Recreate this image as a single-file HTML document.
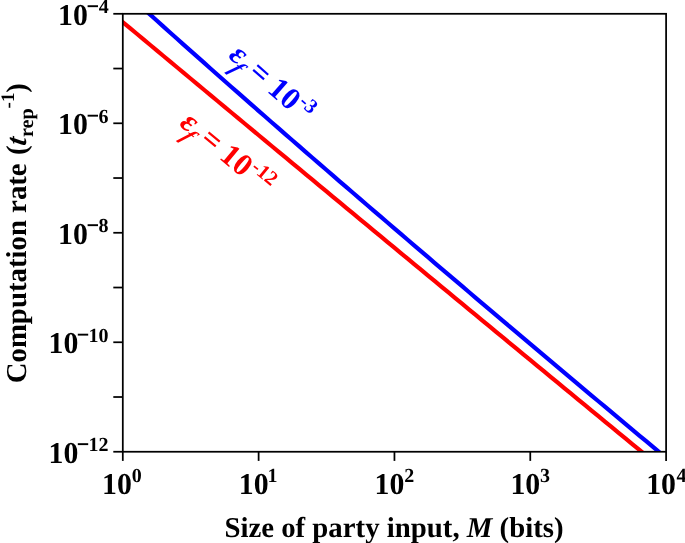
<!DOCTYPE html>
<html><head><meta charset="utf-8"><style>
html,body{margin:0;padding:0;background:#fff;}
body{width:685px;height:543px;overflow:hidden;position:relative;}
svg{position:absolute;left:0;top:0;will-change:transform;}
text{font-family:"Liberation Serif",serif;font-weight:bold;text-rendering:geometricPrecision;}
</style></head><body>
<svg width="685" height="543" viewBox="0 0 685 543">
<defs><clipPath id="ax"><rect x="122.8" y="13.8" width="543.3000000000001" height="437.95"/></clipPath></defs>
<g clip-path="url(#ax)" fill="none" stroke-width="4.2" stroke-linejoin="round">
<polyline stroke="#0000ff" points="108.68,-22.95 115.46,-16.77 122.24,-10.60 129.03,-4.45 135.81,1.69 142.59,7.81 149.38,13.93 156.16,20.03 162.94,26.12 169.73,32.20 176.52,38.26 183.30,44.32 190.09,50.37 196.88,56.41 203.67,62.43 210.46,68.45 217.25,74.46 224.04,80.46 230.83,86.45 237.62,92.43 244.42,98.41 251.21,104.38 258.00,110.33 264.80,116.28 271.59,122.23 278.39,128.16 285.18,134.09 291.98,140.02 298.78,145.93 305.57,151.84 312.37,157.74 319.17,163.64 325.97,169.53 332.77,175.41 339.57,181.29 346.37,187.16 353.18,193.03 359.98,198.89 366.78,204.75 373.58,210.60 380.39,216.44 387.19,222.28 394.00,228.12 400.80,233.95 407.61,239.77 414.42,245.59 421.22,251.41 428.03,257.22 434.84,263.03 441.65,268.83 448.46,274.63 455.27,280.42 462.08,286.21 468.89,292.00 475.70,297.78 482.51,303.56 489.33,309.33 496.14,315.11 502.95,320.87 509.77,326.64 516.58,332.40 523.40,338.15 530.21,343.90 537.03,349.65 543.85,355.40 550.66,361.14 557.48,366.88 564.30,372.62 571.12,378.35 577.94,384.08 584.76,389.81 591.58,395.53 598.40,401.26 605.22,406.97 612.05,412.69 618.87,418.40 625.69,424.11 632.52,429.82 639.34,435.52 646.17,441.23 652.99,446.92 659.82,452.62 666.64,458.32 673.47,464.01 680.30,469.70"/>
<polyline stroke="#ff0000" points="109.81,11.27 116.55,16.89 123.30,22.52 130.04,28.14 136.79,33.76 143.53,39.39 150.28,45.01 157.03,50.64 163.78,56.26 170.54,61.88 177.29,67.51 184.04,73.13 190.80,78.76 197.56,84.38 204.31,90.00 211.07,95.63 217.84,101.25 224.60,106.88 231.36,112.50 238.13,118.13 244.89,123.75 251.66,129.37 258.43,135.00 265.20,140.62 271.97,146.25 278.74,151.87 285.51,157.49 292.29,163.12 299.06,168.74 305.84,174.37 312.62,179.99 319.40,185.62 326.18,191.24 332.96,196.86 339.74,202.49 346.53,208.11 353.31,213.74 360.10,219.36 366.89,224.98 373.68,230.61 380.47,236.23 387.26,241.86 394.05,247.48 400.84,253.11 407.64,258.73 414.44,264.35 421.23,269.98 428.03,275.60 434.83,281.23 441.64,286.85 448.44,292.47 455.24,298.10 462.05,303.72 468.85,309.35 475.66,314.97 482.47,320.60 489.28,326.22 496.09,331.84 502.91,337.47 509.72,343.09 516.53,348.72 523.35,354.34 530.17,359.96 536.99,365.59 543.81,371.21 550.63,376.84 557.45,382.46 564.27,388.09 571.10,393.71 577.93,399.33 584.75,404.96 591.58,410.58 598.41,416.21 605.24,421.83 612.08,427.45 618.91,433.08 625.74,438.70 632.58,444.33 639.42,449.95 646.26,455.58 653.10,461.20 659.94,466.82 666.78,472.45 673.62,478.07 680.47,483.70"/>
</g>
<g stroke="#000" stroke-width="1.75" fill="none">
<rect x="122.8" y="13.8" width="543.3000000000001" height="437.95"/>
<line x1="113.3" y1="13.80" x2="122.8" y2="13.80"/>
<line x1="113.3" y1="68.54" x2="122.8" y2="68.54"/>
<line x1="113.3" y1="123.29" x2="122.8" y2="123.29"/>
<line x1="113.3" y1="178.03" x2="122.8" y2="178.03"/>
<line x1="113.3" y1="232.78" x2="122.8" y2="232.78"/>
<line x1="113.3" y1="287.52" x2="122.8" y2="287.52"/>
<line x1="113.3" y1="342.26" x2="122.8" y2="342.26"/>
<line x1="113.3" y1="397.01" x2="122.8" y2="397.01"/>
<line x1="113.3" y1="451.75" x2="122.8" y2="451.75"/>
<line x1="122.80" y1="451.8" x2="122.80" y2="460.9"/>
<line x1="258.62" y1="451.8" x2="258.62" y2="460.9"/>
<line x1="394.45" y1="451.8" x2="394.45" y2="460.9"/>
<line x1="530.27" y1="451.8" x2="530.27" y2="460.9"/>
<line x1="666.10" y1="451.8" x2="666.10" y2="460.9"/>
</g>
<g font-size="29.8" fill="#000">
<text transform="translate(58.01,24.80) scale(1,1.020)">10</text>
<rect x="87.60" y="5.25" width="10.4" height="1.9"/>
<text x="98.83" y="13.20" font-size="20.0">4</text>
<text transform="translate(58.01,134.29) scale(1,1.020)">10</text>
<rect x="87.60" y="114.74" width="10.4" height="1.9"/>
<text x="98.42" y="122.69" font-size="20.0">6</text>
<text transform="translate(58.01,243.78) scale(1,1.020)">10</text>
<rect x="87.60" y="224.23" width="10.4" height="1.9"/>
<text x="98.44" y="232.18" font-size="20.0">8</text>
<text transform="translate(48.61,353.26) scale(1,1.020)">10</text>
<rect x="77.80" y="333.71" width="10.4" height="1.9"/>
<text x="88.60" y="341.66" font-size="20.0">10</text>
<text transform="translate(48.61,462.75) scale(1,1.020)">10</text>
<rect x="77.80" y="443.20" width="10.4" height="1.9"/>
<text x="88.60" y="451.15" font-size="20.0">12</text>
<text transform="translate(102.11,493.70) scale(1,1.020)">10</text>
<text x="131.84" y="481.90" font-size="20.0">0</text>
<text transform="translate(238.74,493.70) scale(1,1.020)">10</text>
<text x="267.62" y="481.90" font-size="20.0">1</text>
<text transform="translate(374.56,493.70) scale(1,1.020)">10</text>
<text x="404.21" y="481.90" font-size="20.0">2</text>
<text transform="translate(510.39,493.70) scale(1,1.020)">10</text>
<text x="540.12" y="481.90" font-size="20.0">3</text>
<text transform="translate(646.21,493.70) scale(1,1.020)">10</text>
<text x="676.43" y="481.90" font-size="20.0">4</text>
</g>
<g font-size="28.8" fill="#000">
<text x="394.0" y="537" text-anchor="middle">Size of party input, <tspan font-style="italic">M</tspan> (bits)</text>
<text transform="translate(26.00,383.31) rotate(-90)" font-size="28.80">Computation rate</text>
<text transform="translate(26.00,155.07) rotate(-90)" font-size="28.80">(</text>
<text transform="translate(26.00,146.37) rotate(-90) skewX(-8.0)" font-size="28.80" font-style="italic">t</text>
<text transform="translate(32.90,137.04) rotate(-90)" font-size="20.20">rep</text>
<text transform="translate(13.80,108.40) rotate(-90)" font-size="19.00">-1</text>
<text transform="translate(26.00,92.73) rotate(-90)" font-size="28.80">)</text>
</g>
<g font-size="28.8">
<g fill="#0000ff" transform="translate(227.50,57.00) rotate(41.30)"><text font-style="italic" font-size="31.20" transform="translate(0.00,0.00) scale(1.050,1.000)">&#949;</text><text font-style="italic" font-size="22.50" transform="translate(9.20,9.20) skewX(-14)">f</text><text font-size="31.20" x="26.30" y="0">=</text><text font-size="31.20" x="51.60" y="0">10</text><text font-size="20.30" x="83.60" y="-11.60">-3</text></g>
<g fill="#ff0000" transform="translate(178.50,125.00) rotate(39.60)"><text font-style="italic" font-size="31.20" transform="translate(0.00,0.00) scale(1.050,1.000)">&#949;</text><text font-style="italic" font-size="22.50" transform="translate(9.20,9.20) skewX(-14)">f</text><text font-size="31.20" x="26.30" y="0">=</text><text font-size="31.20" x="51.60" y="0">10</text><text font-size="20.30" x="83.60" y="-11.60">-12</text></g>
</g>
</svg>
</body></html>
